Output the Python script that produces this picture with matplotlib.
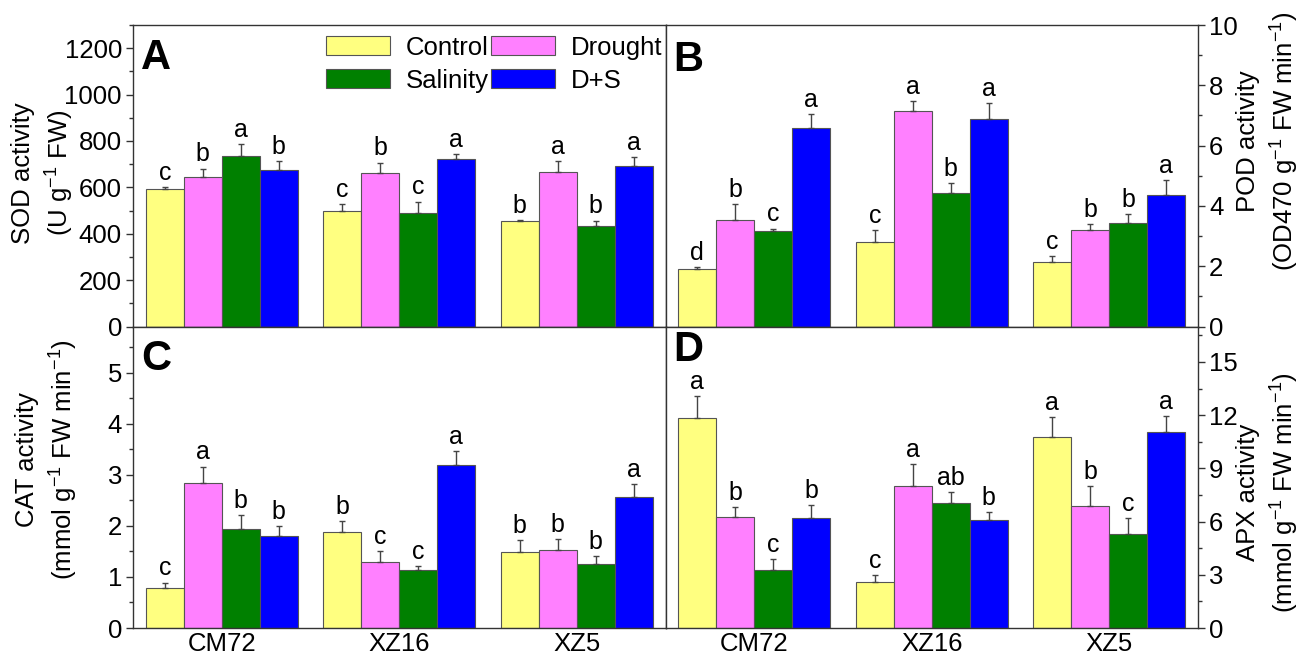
import numpy as np
import matplotlib
matplotlib.use('Agg')
import matplotlib.pyplot as plt
from matplotlib.ticker import MultipleLocator

plt.rcParams['font.family'] = ['Liberation Sans', 'DejaVu Sans']
plt.rcParams['mathtext.default'] = 'regular'

cultivars = ['CM72', 'XZ16', 'XZ5']
treatments = ['Control', 'Drought', 'Salinity', 'D+S']
colors = ['#FFFF80', '#FF80FF', '#008000', '#0000FF']

# rows: Control, Drought, Salinity, D+S ; cols: CM72, XZ16, XZ5
sod_mean = [[593, 497, 453], [644, 661, 668], [737, 491, 434], [674, 722, 694]]
sod_err = [[10, 33, 7], [37, 46, 47], [50, 48, 23], [38, 23, 37]]
sod_letters = [['c', 'c', 'b'], ['b', 'b', 'a'], ['a', 'c', 'b'], ['b', 'a', 'a']]

pod_mean = [[1.90, 2.80, 2.14], [3.52, 7.15, 3.19], [3.17, 4.43, 3.42], [6.57, 6.88, 4.36]]
pod_err = [[0.08, 0.41, 0.19], [0.54, 0.33, 0.21], [0.08, 0.33, 0.30], [0.48, 0.53, 0.51]]
pod_letters = [['d', 'c', 'c'], ['b', 'a', 'b'], ['c', 'b', 'b'], ['a', 'a', 'a']]

cat_mean = [[0.79, 1.87, 1.48], [2.83, 1.29, 1.52], [1.94, 1.13, 1.26], [1.81, 3.19, 2.57]]
cat_err = [[0.10, 0.23, 0.24], [0.33, 0.21, 0.23], [0.27, 0.08, 0.14], [0.19, 0.27, 0.25]]
cat_letters = [['c', 'b', 'b'], ['a', 'c', 'b'], ['b', 'c', 'b'], ['b', 'a', 'a']]

apx_mean = [[11.86, 2.59, 10.77], [6.28, 8.03, 6.88], [3.25, 7.07, 5.30], [6.18, 6.11, 11.05]]
apx_err = [[1.22, 0.42, 1.13], [0.54, 1.24, 1.13], [0.62, 0.58, 0.92], [0.77, 0.43, 0.90]]
apx_letters = [['a', 'c', 'a'], ['b', 'a', 'b'], ['c', 'ab', 'c'], ['b', 'b', 'a']]

fig, axes = plt.subplots(2, 2, figsize=(13.02, 6.55), dpi=100)
plt.subplots_adjust(left=0.1022, right=0.9201, top=0.9618, bottom=0.0412, wspace=0, hspace=0)

x = np.arange(len(cultivars))
w = 0.214
FS = 18.5


def draw_panel(ax, mean, err, letters, ymax, major, minor, ylabel, lab_xy, tag, tag_y,
               right=False, bottom=False):
    for i in range(4):
        pos = x + (i - 1.5) * w
        m = np.array(mean[i])
        e = np.array(err[i])
        ax.bar(pos, m, w, color=colors[i], edgecolor='#555555', linewidth=0.8, label=treatments[i],
               yerr=[np.zeros_like(e), e], capsize=2.5,
               error_kw=dict(ecolor='#444444', elinewidth=1.0, capthick=1.0))
        for j in range(3):
            ax.annotate(letters[i][j], (pos[j], m[j] + e[j]), xytext=(0, 1.5), textcoords='offset points',
                        ha='center', va='bottom', fontsize=18)
    ax.set_xlim(-0.5, 2.5)
    ax.set_ylim(0, ymax)
    ax.yaxis.set_major_locator(MultipleLocator(major))
    ax.yaxis.set_minor_locator(MultipleLocator(minor))
    ax.tick_params(axis='y', which='major', direction='out', length=5, width=1, labelsize=FS,
                   color='#333333', pad=3)
    ax.tick_params(axis='y', which='minor', direction='out', length=3, width=1, color='#333333')
    ax.tick_params(axis='x', length=0, labelsize=FS, pad=3)
    ax.set_xticks(x)
    if bottom:
        ax.set_xticklabels(cultivars)
    else:
        ax.set_xticklabels([])
    if right:
        ax.yaxis.tick_right()
        ax.yaxis.set_label_position('right')
    ax.set_ylabel(ylabel, fontsize=FS, rotation=90, linespacing=1.35)
    ax.yaxis.set_label_coords(*lab_xy)
    for s in ax.spines.values():
        s.set_color('#333333')
        s.set_linewidth(1.0)
    ax.text(0.015, tag_y, tag, transform=ax.transAxes, fontsize=30, fontweight='bold', va='top', ha='left')


draw_panel(axes[0, 0], sod_mean, sod_err, sod_letters, 1300, 200, 100,
           'SOD activity\n(U g$^{-1}$ FW)', (-0.108, 0.51), 'A', 0.957)
draw_panel(axes[0, 1], pod_mean, pod_err, pod_letters, 10, 2, 1,
           'POD activity\n(OD470 g$^{-1}$ FW min$^{-1}$)', (1.072, 0.615), 'B', 0.950, right=True)
draw_panel(axes[1, 0], cat_mean, cat_err, cat_letters, 5.9, 1, 0.5,
           'CAT activity\n(mmol g$^{-1}$ FW min$^{-1}$)', (-0.100, 0.56), 'C', 0.957, bottom=True)
draw_panel(axes[1, 1], apx_mean, apx_err, apx_letters, 17, 3, 1.5,
           'APX activity\n(mmol g$^{-1}$ FW min$^{-1}$)', (1.072, 0.45), 'D', 0.99, right=True, bottom=True)

h, l = axes[0, 0].get_legend_handles_labels()
axes[0, 0].legend([h[0], h[2], h[1], h[3]], [l[0], l[2], l[1], l[3]], ncol=2, loc='upper left',
                  bbox_to_anchor=(0.362, 0.965), frameon=False, fontsize=FS, borderpad=0,
                  borderaxespad=0, handlelength=2.5, handleheight=0.8, handletextpad=0.6,
                  columnspacing=0.1, labelspacing=0.35)

plt.savefig('out.png', dpi=100)
